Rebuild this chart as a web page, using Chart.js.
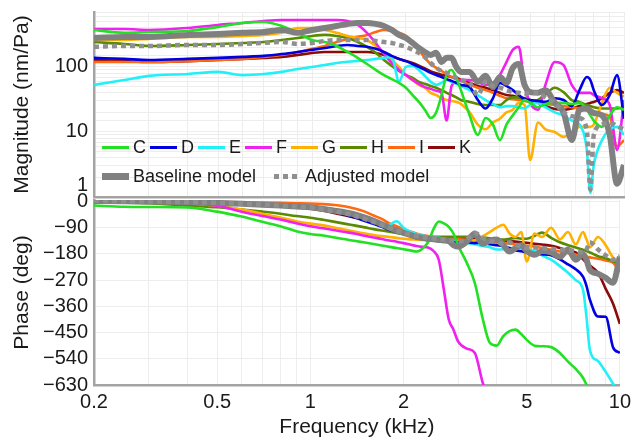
<!DOCTYPE html>
<html>
<head>
<meta charset="utf-8">
<title>Magnitude and phase</title>
<script src="https://cdn.jsdelivr.net/npm/chart.js@4.4.1/dist/chart.umd.min.js"></script>
<style>
  html, body { margin: 0; padding: 0; background: #ffffff; }
  body { position: relative; width: 636px; height: 438px; overflow: hidden;
         font-family: "Liberation Sans", Arial, sans-serif; color: #1a1a1a; }
  .box { position: absolute; left: 0; width: 636px; }
  #magBox { top: 0; height: 200px; }
  #phaseBox { top: 180px; height: 258px; }
  .legend-row { position: absolute; left: 102px; height: 20px; display: flex; align-items: center;
                font-size: 18px; line-height: 20px; white-space: nowrap; }
  .legend-item { display: flex; align-items: center; }
  .swatch { width: 27px; margin-right: 4px; }
</style>
</head>
<body>
<div id="magBox" class="box"><canvas id="magChart"></canvas></div>
<div id="phaseBox" class="box"><canvas id="phaseChart"></canvas></div>
<div id="legendRow1" class="legend-row" style="top:137px"></div>
<div id="legendRow2" class="legend-row" style="top:166px"></div>
<script>
// frequency points (kHz)
const freqs = [0.2, 0.25, 0.3, 0.4, 0.5, 0.6, 0.7, 0.8, 0.9,
  1.0, 1.1, 1.2, 1.3, 1.4, 1.5, 1.6, 1.7, 1.8, 1.9,
  2.0, 2.1, 2.2, 2.3, 2.4, 2.5, 2.6, 2.7, 2.8, 2.9,
  3.0, 3.2, 3.4, 3.6, 3.8,
  4.0, 4.2, 4.4, 4.6, 4.8,
  5.0, 5.3, 5.6,
  6.0, 6.4, 6.8, 7.2, 7.6, 7.8, 8.0,
  8.5, 9.0, 9.5, 10];

// magnitude (nm/Pa)
const magC = [371, 335, 345, 358, 412, 475, 492, 427, 335,
  260, 242, 210, 170, 138, 111, 90, 75, 65, 57,
  48, 37, 29, 22, 16.4, 20, 37, 75, 90, 68,
  44, 18, 9, 16.4, 13,
  7.5, 13, 18, 24, 31,
  28, 24, 27,
  28, 28, 27, 28, 22, 18, 15,
  12, 18, 24, 22];
const magD = [138, 133, 128, 133, 138, 143, 148, 158, 170,
  183, 196, 210, 218, 210, 204, 190, 170, 148, 133,
  123, 111, 100, 90, 81, 75, 70, 65, 61, 57,
  53, 49, 31, 23, 33,
  57, 51, 44, 37, 32,
  31, 30, 29,
  33, 31, 25, 44, 70, 63, 44,
  26, 37, 75, 16];
const magE = [53, 63, 73, 78, 84, 75, 78, 84, 93,
  100, 107, 115, 120, 124, 128, 133, 138, 143, 60,
  100, 104, 90, 73, 59, 53, 57, 63, 59, 55,
  51, 44, 37, 31, 27,
  24, 25, 25, 24, 23,
  26, 28, 24,
  20, 18, 15, 13, 5.3, 1.15, 3.1,
  7.5, 11, 12, 9];
const magF = [384, 384, 371, 398, 443, 475, 510, 528, 528,
  528, 528, 528, 510, 443, 335, 234, 158, 115, 90,
  75, 63, 55, 49, 46, 43, 40, 15, 51, 59,
  63, 63, 59, 53, 57,
  75, 119, 183, 204, 53,
  28, 22, 53,
  119, 107, 53, 40, 40, 40, 37,
  33, 26, 5.3, 31];
const magG = [260, 260, 270, 290, 290, 300, 311, 335, 398,
  398, 371, 335, 300, 279, 260, 210, 165, 128, 100,
  75, 63, 53, 48, 40, 37, 33, 31, 30, 29,
  27, 20, 13, 11, 14,
  16, 20, 22, 28, 26,
  3.7, 14, 11,
  10, 8.4, 10, 12, 12, 12, 13,
  28, 48, 40, 35];
const magH = [242, 226, 210, 218, 226, 234, 242, 260, 279,
  300, 311, 300, 279, 242, 204, 165, 128, 104, 87,
  75, 68, 59, 55, 51, 48, 44, 40, 37, 34,
  31, 29, 27, 26, 26,
  26, 31, 34, 34, 31,
  29, 31, 38,
  48, 41, 31, 29, 26, 25, 24,
  23, 23, 23, 24];
const magI = [119, 119, 119, 123, 128, 133, 143, 153, 170,
  190, 210, 242, 270, 290, 311, 345, 371, 358, 335,
  300, 242, 183, 138, 111, 97, 87, 78, 70, 65,
  61, 53, 48, 44, 40,
  36, 33, 32, 31, 30,
  29, 28, 27,
  26, 25, 24, 23, 22, 21, 20,
  19, 17, 6, 7.5];
const magK = [128, 123, 119, 123, 128, 133, 138, 143, 153,
  164, 170, 170, 170, 170, 170, 164, 153, 143, 133,
  123, 115, 105, 95, 85, 80, 76, 73, 70, 68,
  63, 57, 51, 48, 44,
  40, 37, 36, 34, 33,
  31, 28, 25,
  22.5, 22, 23, 25, 27, 28, 29,
  33, 40, 44, 40];
const magBaseline = [279, 290, 290, 311, 322, 335, 345, 371, 335,
  371, 398, 427, 459, 475, 475, 459, 427, 371, 311,
  279, 234, 196, 170, 153, 165, 119, 138, 138, 100,
  84, 84, 59, 73, 49,
  70, 57, 97, 111, 53,
  41, 40, 44,
  28, 20, 7.5, 22, 23, 21, 19.6,
  18, 9, 1.6, 3.1];
const magAdjusted = [204, 210, 210, 218, 218, 226, 234, 242, 226,
  234, 251, 260, 260, 260, 260, 251, 242, 234, 218,
  204, 183, 165, 142, 115, 97, 87, 81, 73, 68,
  63, 57, 37, 59, 51,
  48, 44, 41, 40, 38,
  40, 40, 34,
  28, 20, 17.5, 16.4, 10.7, 1.3, 9,
  13, 14, 12.3, 11];

// phase (deg)
const phaseC = [-14, -18, -19, -21, -35, -52, -70, -85, -102,
  -112, -117, -124, -130, -136, -141, -146, -151, -156, -160,
  -164, -168, -172, -162, -140, -95, -69, -75, -87, -110,
  -150, -210, -280, -400, -485,
  -495, -462, -445, -440, -455,
  -475, -495, -497,
  -500, -520, -550, -575, -605, -629, -650];
const phaseD = [-2, -2, -3, -4, -6, -9, -12, -15, -19,
  -23, -30, -37, -46, -56, -67, -77, -87, -98, -105,
  -112, -119, -126, -129, -133, -133, -136, -136, -136, -140,
  -140, -140, -143, -140, -147,
  -150, -153, -160, -168, -171,
  -174, -178, -181,
  -185, -199, -216, -233, -258, -290, -337,
  -395, -396, -500, -520];
const phaseE = [-2, -2, -3, -4, -5, -7, -9, -12, -15,
  -18, -22, -28, -36, -45, -55, -68, -85, -80, -68,
  -90, -104, -112, -117, -121, -124, -125, -129, -133, -136,
  -140, -143, -147, -153, -157,
  -165, -164, -160, -160, -162,
  -165, -170, -185,
  -200, -222, -245, -270, -303, -396, -510,
  -548, -585, -625, -660];
const phaseF = [-4, -4, -4, -5, -15, -35, -50, -62, -75,
  -85, -92, -99, -105, -111, -118, -124, -129, -134, -138,
  -143, -148, -153, -156, -158, -170, -200, -303, -405, -440,
  -480, -505, -520, -620, -690];
const phaseG = [-3, -3, -4, -6, -15, -28, -42, -55, -68,
  -76, -82, -90, -97, -104, -110, -115, -119, -122, -125,
  -128, -130, -131, -132, -133, -133, -134, -135, -135, -136,
  -137, -138, -133, -120, -105,
  -90, -80, -110, -122, -105,
  -206, -110, -122,
  -90, -130, -105, -147, -105, -130, -157,
  -122, -150, -192, -206];
const phaseH = [-3, -4, -6, -14, -20, -28, -35, -42, -50,
  -56, -63, -70, -77, -83, -89, -95, -100, -104, -108,
  -112, -115, -118, -120, -121, -121, -121, -121, -121, -121,
  -121, -121, -121, -123, -126,
  -130, -131, -128, -125, -128,
  -128, -118, -107,
  -125, -140, -150, -158, -166, -170, -175,
  -188, -195, -205, -212];
const phaseI = [0, 0, 0, -1, -2, -3, -4, -5, -6,
  -7, -9, -12, -17, -25, -35, -48, -60, -75, -85,
  -95, -103, -110, -115, -119, -122, -124, -126, -128, -129,
  -130, -132, -134, -136, -138,
  -140, -142, -145, -148, -150,
  -152, -155, -160,
  -166, -172, -178, -183, -188, -190, -192,
  -197, -203, -210, -240];
const phaseK = [-2, -2, -3, -4, -6, -9, -12, -16, -20,
  -25, -32, -40, -48, -56, -63, -70, -78, -86, -94,
  -102, -108, -114, -118, -121, -123, -124, -125, -126, -126,
  -127, -128, -129, -130, -131,
  -132, -134, -136, -138, -140,
  -142, -145, -148,
  -152, -160, -168, -175, -198, -210, -220,
  -245, -300, -350, -420];
const phaseBaseline = [2, 1, 0, -2, -5, -8, -11, -14, -17,
  -20, -26, -32, -38, -45, -55, -66, -78, -90, -100,
  -108, -115, -121, -125, -128, -130, -132, -134, -136, -150,
  -155, -138, -110, -145, -135,
  -131, -150, -172, -160, -150,
  -170, -183, -170,
  -175, -190, -165, -200, -180, -200, -235,
  -248, -262, -279, -190];
const phaseAdjusted = [2, 1, 0, -2, -5, -8, -11, -14, -17,
  -21, -27, -34, -41, -50, -60, -70, -80, -90, -100,
  -107, -113, -118, -122, -125, -127, -129, -131, -133, -135,
  -137, -130, -108, -125, -135,
  -140, -145, -140, -148, -155,
  -160, -158, -160,
  -162, -165, -168, -170, -175, -165, -140,
  -165, -185, -200, -188];

const names = ['C', 'D', 'E', 'F', 'G', 'H', 'I', 'K'];
const colors = ['#22e022', '#0000e0', '#20f0f8', '#f020f0', '#ffb000', '#5a8a00', '#ff6a10', '#8b0a0a'];
const magSeries = [magC, magD, magE, magF, magG, magH, magI, magK];
const phaseSeries = [phaseC, phaseD, phaseE, phaseF, phaseG, phaseH, phaseI, phaseK];

const freqTicks = [0.2, 0.3, 0.4, 0.5, 0.6, 0.7, 0.8, 0.9, 1, 2, 3, 4, 5, 6, 7, 8, 9, 10];
const freqTickLabels = [0.2, 0.5, 1, 2, 5, 10];
const magTickLabels = [1, 10, 100];
const phaseTicks = [0, -90, -180, -270, -360, -450, -540, -630];

const textColor = '#1a1a1a';
const gridColor = '#ededed';
const frameColor = '#a3a3a3';
const fontFamily = '"Liberation Sans", Arial, sans-serif';
const tickFont = { family: fontFamily, size: 20 };
const titleFont = { family: fontFamily, size: 21 };

function points(vals) {
  return vals.map((v, i) => ({ x: freqs[i], y: v }));
}

function buildDatasets(colored, baseline, adjusted) {
  const sets = colored.map((vals, i) => ({
    label: names[i],
    data: points(vals),
    borderColor: colors[i],
    borderWidth: 2.6,
    order: 2
  }));
  sets.push({ label: 'Baseline model', data: points(baseline), borderColor: '#808080', borderWidth: 6, order: 1 });
  sets.push({ label: 'Adjusted model', data: points(adjusted), borderColor: '#8f8f8f', borderWidth: 4.5, borderDash: [5, 4], order: 0 });
  return sets;
}

// fixed left axis width, and no extra room for the end labels
function fitLeftAxis(s) {
  s.width = 94;
  s.paddingTop = 0;
  s.paddingBottom = 0;
}

const common = {
  responsive: true,
  maintainAspectRatio: false,
  animation: false,
  elements: {
    point: { radius: 0 },
    line: { cubicInterpolationMode: 'monotone', fill: false, borderCapStyle: 'butt' }
  },
  plugins: { legend: { display: false }, tooltip: { enabled: false } }
};

const freqAxis = {
  type: 'logarithmic',
  min: 0.2,
  max: 10,
  afterBuildTicks: s => { s.ticks = freqTicks.map(v => ({ value: v })); },
  grid: { color: gridColor, drawTicks: false },
  border: { color: frameColor, width: 2.5 }
};

new Chart(document.getElementById('magChart'), {
  type: 'line',
  data: { datasets: buildDatasets(magSeries, magBaseline, magAdjusted) },
  options: {
    ...common,
    layout: { padding: { top: 12, right: 12, left: 0, bottom: 0 } },
    scales: {
      x: { ...freqAxis, ticks: { display: false }, afterFit: s => { s.height = 3; } },
      y: {
        type: 'logarithmic',
        min: 1,
        max: 700,
        afterFit: fitLeftAxis,
        ticks: {
          autoSkip: false,
          padding: 6,
          color: textColor,
          font: tickFont,
          callback: v => {
            if (Math.abs(v - 1) < 1e-9) return ['1', ''];
            return magTickLabels.some(t => Math.abs(v - t) < 1e-6 * t) ? String(Math.round(v)) : '';
          }
        },
        grid: { color: gridColor, drawTicks: false },
        border: { color: frameColor, width: 2.5 },
        title: { display: true, text: 'Magnitude (nm/Pa)', color: textColor, font: titleFont, padding: { top: 10, bottom: 0 } }
      }
    }
  }
});

new Chart(document.getElementById('phaseChart'), {
  type: 'line',
  data: { datasets: buildDatasets(phaseSeries, phaseBaseline, phaseAdjusted) },
  options: {
    ...common,
    layout: { padding: { top: 20, right: 12, left: 0, bottom: 0 } },
    scales: {
      x: {
        ...freqAxis,
        afterFit: s => { s.height = 53; },
        ticks: {
          autoSkip: false,
          maxRotation: 0,
          padding: 5,
          color: textColor,
          font: tickFont,
          callback: v => freqTickLabels.some(t => Math.abs(v - t) < 1e-6) ? String(v) : ''
        },
        title: { display: true, text: 'Frequency (kHz)', color: textColor, font: { ...titleFont, lineHeight: 1 }, padding: { top: 0, bottom: 0 } }
      },
      y: {
        type: 'linear',
        min: -630,
        max: 5,
        afterBuildTicks: s => { s.ticks = phaseTicks.map(v => ({ value: v })); },
        afterFit: fitLeftAxis,
        ticks: {
          autoSkip: false,
          padding: 6,
          color: textColor,
          font: tickFont,
          callback: v => v === 0 ? '0' : '\u2212' + Math.abs(v)
        },
        grid: { color: gridColor, drawTicks: false },
        border: { color: frameColor, width: 2.5 },
        title: { display: true, text: 'Phase (deg)', color: textColor, font: titleFont, padding: { top: 10, bottom: 0 } }
      }
    }
  }
});

// legend drawn as html over the magnitude panel
function legendItem(swatchStyle, text, gap) {
  const item = document.createElement('div');
  item.className = 'legend-item';
  item.style.marginRight = gap + 'px';
  const sw = document.createElement('div');
  sw.className = 'swatch';
  Object.assign(sw.style, swatchStyle);
  const label = document.createElement('span');
  label.textContent = text;
  item.appendChild(sw);
  item.appendChild(label);
  return item;
}

const row1 = document.getElementById('legendRow1');
names.forEach((n, i) => {
  row1.appendChild(legendItem({ height: '3px', background: colors[i] }, n, 4));
});
const row2 = document.getElementById('legendRow2');
row2.appendChild(legendItem({ height: '7px', background: '#808080' }, 'Baseline model', 18));
row2.appendChild(legendItem({ height: '5px', background: 'repeating-linear-gradient(90deg, #8f8f8f 0 5px, transparent 5px 9px)' }, 'Adjusted model', 0));
</script>
</body>
</html>
